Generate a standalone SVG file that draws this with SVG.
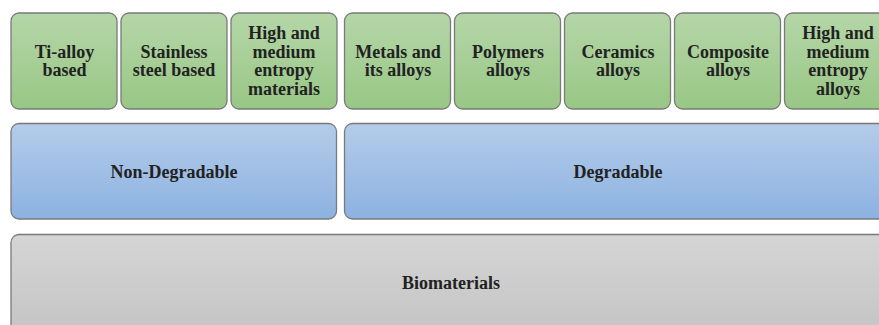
<svg xmlns="http://www.w3.org/2000/svg" width="879" height="325" viewBox="0 0 879 325">
<defs>
<linearGradient id="gG" x1="0" y1="0" x2="0" y2="1"><stop offset="0" stop-color="#b5d6a8"/><stop offset="1" stop-color="#98c785"/></linearGradient>
<linearGradient id="gB" x1="0" y1="0" x2="0" y2="1"><stop offset="0" stop-color="#b4cce9"/><stop offset="1" stop-color="#8cb2e1"/></linearGradient>
<linearGradient id="gR" x1="0" y1="0" x2="0" y2="1"><stop offset="0" stop-color="#d5d5d5"/><stop offset="1" stop-color="#c1c1c1"/></linearGradient>
</defs>
<style>
rect{stroke:#7a7a7a;stroke-width:1.3}
.g{fill:url(#gG)}
.b{fill:url(#gB)}
.r{fill:url(#gR)}
text{font-family:"Liberation Serif","Times New Roman",serif;font-weight:bold;font-size:18px;fill:#222;text-anchor:middle}
</style>
<rect width="879" height="325" fill="#fff" style="stroke:none"/>
<g id="biomaterials"><rect class="r" x="11" y="234.5" width="900" height="120" rx="8"/><text x="451" y="288.5">Biomaterials</text></g>
<g id="non-degradable"><rect class="b" x="11" y="123.5" width="325.5" height="95.5" rx="8"/><text x="174" y="178">Non-Degradable</text></g>
<g id="degradable"><rect class="b" x="344.5" y="123.5" width="560" height="95.5" rx="8"/><text x="618" y="178">Degradable</text></g>
<g id="ti-alloy"><rect class="g" x="11" y="13" width="106" height="96" rx="8"/><text x="64.5" y="57.8">Ti-alloy</text><text x="64.5" y="76.3">based</text></g>
<g id="stainless"><rect class="g" x="121" y="13" width="106" height="96" rx="8"/><text x="174" y="57.8">Stainless</text><text x="174" y="76.3">steel based</text></g>
<g id="hme-materials"><rect class="g" x="231" y="13" width="106" height="96" rx="8"/><text x="284" y="39">High and</text><text x="284" y="57.5">medium</text><text x="284" y="76">entropy</text><text x="284" y="94.5">materials</text></g>
<g id="metals"><rect class="g" x="344.5" y="13" width="106" height="96" rx="8"/><text x="398" y="57.8">Metals and</text><text x="398" y="76.3">its alloys</text></g>
<g id="polymers"><rect class="g" x="454.5" y="13" width="106" height="96" rx="8"/><text x="508" y="57.8">Polymers</text><text x="508" y="76.3">alloys</text></g>
<g id="ceramics"><rect class="g" x="564.5" y="13" width="106" height="96" rx="8"/><text x="618" y="57.8">Ceramics</text><text x="618" y="76.3">alloys</text></g>
<g id="composite"><rect class="g" x="674.5" y="13" width="106" height="96" rx="8"/><text x="728" y="57.8">Composite</text><text x="728" y="76.3">alloys</text></g>
<g id="hme-alloys"><rect class="g" x="784.5" y="13" width="106" height="96" rx="8"/><text x="838" y="39">High and</text><text x="838" y="57.5">medium</text><text x="838" y="76">entropy</text><text x="838" y="94.5">alloys</text></g>
<g id="connectors"></g>
</svg>
